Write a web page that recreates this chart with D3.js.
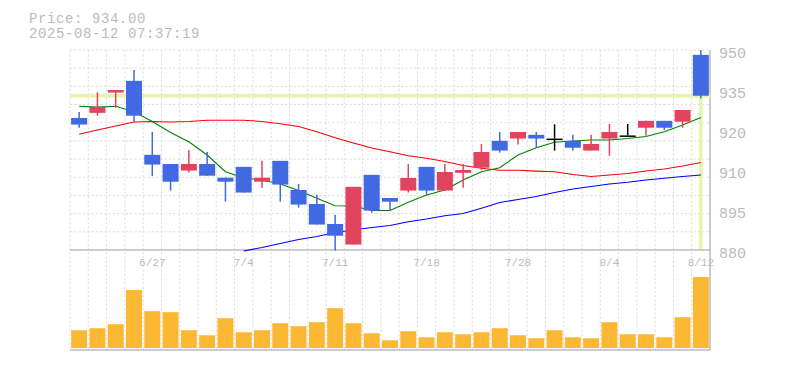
<!DOCTYPE html>
<html>
<head>
<meta charset="utf-8">
<script src="https://cdnjs.cloudflare.com/ajax/libs/d3/7.8.5/d3.min.js"></script>
<style>
  body { margin: 0; background: #fff; }
  svg { display: block; }
  .info, .tick-label { font-family: "Liberation Mono", "DejaVu Sans Mono", monospace; fill: #bbb; }
  .grid { stroke: #ddd; stroke-width: 1; stroke-dasharray: 2.3,2; }
  .frame { stroke: #bbb; stroke-width: 1.5; }
  .ma { fill: none; stroke-width: 1.1; }
</style>
</head>
<body>
<svg id="chart" width="785" height="370"></svg>
<script>
// daily candles, 6/23 - 8/12
var dates = ["6/23","6/24","6/25","6/26","6/27","6/30","7/1","7/2","7/3","7/4",
  "7/7","7/8","7/9","7/10","7/11","7/14","7/15","7/16","7/17","7/18",
  "7/22","7/23","7/24","7/25","7/28","7/29","7/30","7/31","8/1","8/4",
  "8/5","8/6","8/7","8/8","8/12"];
var opens  = [926.2,928.0,935.1,939.2,913.3,910.1,907.8,910.1,905.3,909.1,
  903.9,911.2,901.0,896.1,889.1,881.9,906.3,898.2,900.8,909.1,
  900.8,907.0,908.8,918.2,919.0,920.3,919.0,918.2,914.8,919.0,
  920.1,922.8,925.2,924.9,948.3];
var highs  = [928.3,935.2,936.0,943.0,921.3,910.1,915.0,914.3,905.3,909.1,
  911.2,911.2,903.1,899.3,892.3,902.1,906.3,898.2,910.1,909.1,
  910.1,910.1,917.1,921.3,921.3,921.3,924.0,920.3,920.3,924.1,
  924.1,925.2,925.2,929.0,950.0];
var lows   = [922.8,927.0,929.8,924.9,905.9,900.8,907.1,906.0,896.9,900.1,
  901.8,896.9,894.8,888.9,879.8,881.9,893.1,893.8,900.1,899.3,
  900.8,901.8,908.0,914.1,916.9,915.8,914.8,914.8,914.8,913.0,
  920.1,920.0,922.0,922.8,933.1];
var closes = [923.9,930.1,936.0,927.0,909.9,903.9,910.1,906.0,903.9,900.1,
  905.3,902.9,895.9,888.9,885.0,902.1,893.8,896.9,905.2,900.8,
  907.3,908.0,914.3,914.8,921.3,919.0,919.0,915.8,917.1,921.3,
  920.1,925.2,922.8,929.0,934.0];
var volume = [177,197,237,577,367,357,177,127,297,157,
  177,247,217,257,397,247,147,77,167,107,
  157,137,157,197,127,97,177,107,97,257,
  137,137,107,307,707];

// moving averages (null = not drawn)
var ma5 = [930.3,930.0,930.3,928.4,925.0,921.1,917.9,913.25,907.4,905.3,
  904.5,903.1,900.8,898.1,895.5,895.4,893.8,893.8,896.7,899.25,
  901.0,904.5,907.4,908.8,913.25,915.8,917.7,918.15,918.5,918.5,
  919.0,919.7,921.4,923.75,926.4];
var ma25 = [920.5,922.0,923.4,924.8,925.0,924.8,925.0,925.4,925.4,925.4,
  925.0,924.2,923.2,921.4,919.3,917.45,915.7,914.4,913.0,912.1,
  911.0,909.6,908.6,907.9,907.9,907.6,907.4,906.4,905.7,906.25,
  906.8,907.65,908.35,909.4,910.6];
var ma75 = [null,null,null,null,null,null,null,null,null,879.65,
  880.9,882.3,883.7,884.7,886.1,887.0,887.9,888.6,889.9,890.85,
  892.0,892.8,894.6,896.6,897.7,898.7,900.1,901.35,902.2,903.1,
  903.7,904.5,905.1,905.7,906.25];

var tickDates = ["6/27","7/4","7/11","7/18","7/28","8/4","8/12"];
var priceTicks = [950,936,922,908,894,880];
var priceLabels = ["950","935","920","910","895","880"];
var lastPrice = 934.00;
var stamp = "2025-08-12 07:37:19";

var svg = d3.select("#chart");
var plotLeft = 70, plotRight = 710, plotTop = 50, plotBottom = 250, volBottom = 350;

var x = d3.scaleBand()
  .domain(d3.range(dates.length))
  .range([plotLeft, plotRight])
  .paddingInner(0.125)
  .paddingOuter(0.0625);
var step = x.step();
var cx = function (i) { return x(i) + x.bandwidth() / 2; };

var y = d3.scaleLinear().domain([880, 950]).range([plotBottom, plotTop]);
var yv = d3.scaleLinear().domain([0, d3.max(volume)]).range([348, 277]);

// grid
var gridY = d3.range(12).map(function (k) { return 880 + k * 70 / 11; });
svg.append("g").selectAll("line").data(gridY.slice(1)).enter().append("line")
  .attr("class", "grid")
  .attr("x1", plotLeft).attr("x2", plotRight)
  .attr("y1", function (d) { return y(d); })
  .attr("y2", function (d) { return y(d); });

svg.append("g").selectAll("line").data(d3.range(dates.length)).enter().append("line")
  .attr("class", "grid")
  .attr("x1", function (i) { return cx(i) - step / 2; })
  .attr("x2", function (i) { return cx(i) - step / 2; })
  .attr("y1", plotTop).attr("y2", volBottom);

// frame
svg.append("line").attr("class", "frame")
  .attr("x1", plotLeft).attr("x2", plotRight).attr("y1", plotBottom).attr("y2", plotBottom);
svg.append("line").attr("class", "frame")
  .attr("x1", plotLeft).attr("x2", plotRight).attr("y1", volBottom).attr("y2", volBottom);
svg.append("line").attr("class", "frame")
  .attr("x1", plotRight).attr("x2", plotRight).attr("y1", plotTop).attr("y2", volBottom);

// current price marker
var last = dates.length - 1;
svg.append("line")
  .attr("x1", plotLeft).attr("x2", plotRight)
  .attr("y1", y(lastPrice)).attr("y2", y(lastPrice))
  .attr("stroke", "#e2f5a9").attr("stroke-width", 3.5);
svg.append("line")
  .attr("x1", cx(last)).attr("x2", cx(last))
  .attr("y1", y(lastPrice)).attr("y2", plotBottom - 1)
  .attr("stroke", "#e2f5a9").attr("stroke-width", 3.5);

// moving averages
var maLine = d3.line()
  .defined(function (d) { return d != null; })
  .x(function (d, i) { return cx(i); })
  .y(function (d) { return y(d); });

[[ma25, "#ff0000"], [ma75, "#0000ff"], [ma5, "#008000"]].forEach(function (m) {
  svg.append("path")
    .datum(m[0])
    .attr("class", "ma")
    .attr("stroke", m[1])
    .attr("d", maLine);
});

// candles
var colorOf = function (i) {
  if (closes[i] > opens[i]) return "#e2445f";
  if (closes[i] < opens[i]) return "#4169e1";
  return "#000";
};

var candles = svg.append("g").selectAll("g").data(d3.range(dates.length)).enter().append("g");
candles.append("line")
  .attr("x1", cx).attr("x2", cx)
  .attr("y1", function (i) { return y(highs[i]); })
  .attr("y2", function (i) { return y(lows[i]); })
  .attr("stroke", colorOf)
  .attr("stroke-width", 1.5);
candles.append("rect")
  .attr("x", function (i) { return x(i); })
  .attr("width", x.bandwidth())
  .attr("y", function (i) { return y(Math.max(opens[i], closes[i])); })
  .attr("height", function (i) { return Math.max(1.5, Math.abs(y(opens[i]) - y(closes[i]))); })
  .attr("fill", colorOf);

// volume
svg.append("g").selectAll("rect").data(volume).enter().append("rect")
  .attr("x", function (d, i) { return x(i); })
  .attr("width", x.bandwidth())
  .attr("y", function (d) { return yv(d); })
  .attr("height", function (d) { return yv(0) - yv(d); })
  .attr("fill", "#fdb833");

// date labels
svg.append("g").selectAll("text").data(tickDates).enter().append("text")
  .attr("class", "tick-label")
  .attr("x", function (d) { return cx(dates.indexOf(d)); })
  .attr("y", 266)
  .attr("text-anchor", "middle")
  .style("font-size", "11px")
  .text(function (d) { return d; });

// price labels
svg.append("g").selectAll("text").data(priceTicks).enter().append("text")
  .attr("class", "tick-label")
  .attr("x", 719)
  .attr("y", function (d) { return y(d) + 7.5; })
  .style("font-size", "15px")
  .text(function (d, i) { return priceLabels[i]; });

// header
svg.append("text").attr("class", "info")
  .attr("x", 29).attr("y", 23)
  .style("font-size", "14px")
  .style("letter-spacing", "0.6px")
  .text("Price: " + lastPrice.toFixed(2));
svg.append("text").attr("class", "info")
  .attr("x", 29).attr("y", 38)
  .style("font-size", "14px")
  .style("letter-spacing", "0.6px")
  .text(stamp);
</script>
</body>
</html>
